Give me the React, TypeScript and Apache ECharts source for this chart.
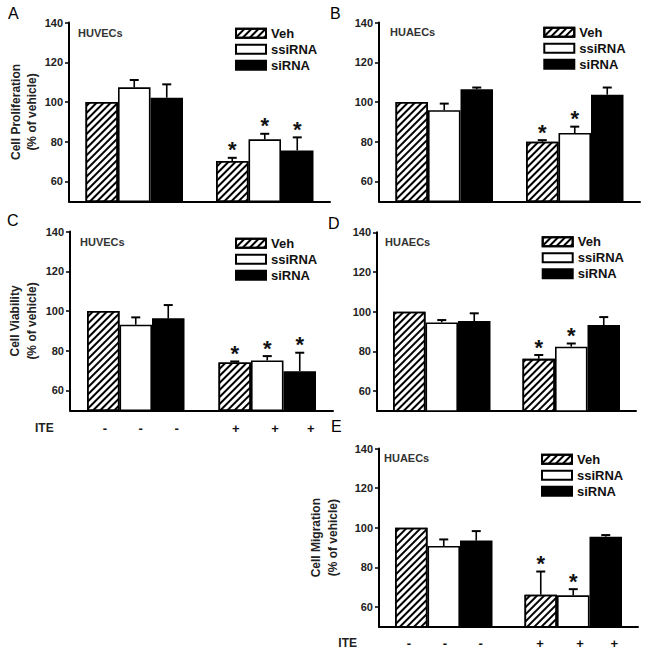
import React, { useEffect, useRef } from 'react';
import * as echarts from 'echarts';

const FONT = '"Liberation Sans", Arial, Helvetica, sans-serif';

const CATEGORIES = ['-', '+'];
const SERIES_NAMES = ['Veh', 'ssiRNA', 'siRNA'];
const Y_TICKS = [60, 80, 100, 120, 140];
const ITE_LABELS = ['-', '-', '-', '+', '+', '+'];

// Panel A – HUVECs, cell proliferation
const A_VEH = [100, 70.3];
const A_SSIRNA = [107.4, 81.2];
const A_SIRNA = [102.2, 75.6];
const A_VEH_ERR = [0, 1.6];
const A_SSIRNA_ERR = [3.7, 2.8];
const A_SIRNA_ERR = [6.7, 6.6];
const A_SIG = [[0, 1], [0, 1], [0, 1]];

// Panel B – HUAECs, cell proliferation
const B_VEH = [100, 80];
const B_SSIRNA = [95.9, 84.4];
const B_SIRNA = [106.4, 103.7];
const B_VEH_ERR = [0, 0.8];
const B_SSIRNA_ERR = [3.3, 3.2];
const B_SIRNA_ERR = [0.9, 3.6];
const B_SIG = [[0, 1], [0, 1], [0, 0]];

// Panel C – HUVECs, cell viability
const C_VEH = [100, 74.1];
const C_SSIRNA = [93.1, 75.1];
const C_SIRNA = [96.3, 69.7];
const C_VEH_ERR = [0, 0.5];
const C_SSIRNA_ERR = [3.7, 2.2];
const C_SIRNA_ERR = [6.7, 9.3];
const C_SIG = [[0, 1], [0, 1], [0, 1]];

// Panel D – HUAECs, cell viability
const D_VEH = [100, 76.3];
const D_SSIRNA = [94.6, 82.4];
const D_SIRNA = [95.3, 93.3];
const D_VEH_ERR = [0, 1.9];
const D_SSIRNA_ERR = [1.2, 1.6];
const D_SIRNA_ERR = [3.9, 4.0];
const D_SIG = [[0, 1], [0, 1], [0, 0]];

// Panel E – HUAECs, cell migration
const E_VEH = [100, 66.2];
const E_SSIRNA = [90.8, 65.9];
const E_SIRNA = [93.5, 95.5];
const E_VEH_ERR = [0, 11.7];
const E_SSIRNA_ERR = [3.3, 3.1];
const E_SIRNA_ERR = [4.8, 0.8];
const E_SIG = [[0, 1], [0, 1], [0, 0]];

const BAR_WIDTH = 32.5;

const PANELS = [
  {
    letter: 'A', letterPos: [8, 13], cell: 'HUVECs', cellPos: [78, 33.3],
    yName: 'Cell Proliferation\n(% of vehicle)', nameGap: 28,
    values: [A_VEH, A_SSIRNA, A_SIRNA], errs: [A_VEH_ERR, A_SSIRNA_ERR, A_SIRNA_ERR], sig: A_SIG,
    grid: { left: 69, top: 22.6, width: 261, height: 178.7 },
    legend: { left: 235, top: 26.8 },
  },
  {
    letter: 'B', letterPos: [330, 13], cell: 'HUAECs', cellPos: [390, 32.3],
    yName: '', nameGap: 0,
    values: [B_VEH, B_SSIRNA, B_SIRNA], errs: [B_VEH_ERR, B_SSIRNA_ERR, B_SIRNA_ERR], sig: B_SIG,
    grid: { left: 379, top: 22.6, width: 261, height: 178.7 },
    legend: { left: 543.3, top: 25.8 },
  },
  {
    letter: 'C', letterPos: [7, 220], cell: 'HUVECs', cellPos: [80, 242.3],
    yName: 'Cell Viability\n(% of vehicle)', nameGap: 30,
    values: [C_VEH, C_SSIRNA, C_SIRNA], errs: [C_VEH_ERR, C_SSIRNA_ERR, C_SIRNA_ERR], sig: C_SIG,
    grid: { left: 70, top: 231.6, width: 263, height: 178.7 },
    legend: { left: 235, top: 236.8 },
  },
  {
    letter: 'D', letterPos: [328, 223], cell: 'HUAECs', cellPos: [385, 241.7],
    yName: '', nameGap: 0,
    values: [D_VEH, D_SSIRNA, D_SIRNA], errs: [D_VEH_ERR, D_SSIRNA_ERR, D_SIRNA_ERR], sig: D_SIG,
    grid: { left: 377, top: 232.3, width: 259, height: 178.7 },
    legend: { left: 541.7, top: 235.2 },
  },
  {
    letter: 'E', letterPos: [331, 426], cell: 'HUAECs', cellPos: [384, 458.3],
    yName: 'Cell Migration\n(% of vehicle)', nameGap: 38,
    values: [E_VEH, E_SSIRNA, E_SIRNA], errs: [E_VEH_ERR, E_SSIRNA_ERR, E_SIRNA_ERR], sig: E_SIG,
    grid: { left: 379, top: 448.5, width: 259, height: 178.3 },
    legend: { left: 541, top: 452.8 },
  },
];

// ITE rows under panels C and E
const ITE_ROWS = [
  { titleX: 35, y: 428.3, xs: [105, 140.7, 176.7, 235.7, 275, 310.7] },
  { titleX: 338.3, y: 643, xs: [409, 445, 480.7, 540, 580, 614.3] },
];

const BAR_STYLES = [
  {
    color: '#ffffff', borderColor: '#000', borderWidth: 1.6,
    decal: {
      symbol: 'rect', symbolSize: 1, color: '#000', backgroundColor: '#ffffff',
      dashArrayX: [1, 0], dashArrayY: [1.4, 2.4], rotation: -Math.PI / 4,
    },
  },
  { color: '#ffffff', borderColor: '#000', borderWidth: 1.6 },
  { color: '#000000', borderColor: '#000', borderWidth: 1.6 },
];

function makeRenderer(seriesIdx: number) {
  return (params: any, api: any) => {
    const k = api.value(0);
    const v = api.value(1);
    const e = api.value(2);
    const sig = api.value(3);
    const base = api.coord([k, v]);
    const top = api.coord([k, v + e]);
    const cx = base[0] + (seriesIdx - 1) * BAR_WIDTH;
    const children: any[] = [];
    if (e > 0) {
      children.push({
        type: 'line',
        shape: { x1: cx, y1: base[1], x2: cx, y2: top[1] },
        style: { stroke: '#000', lineWidth: 1.6 },
      });
      children.push({
        type: 'line',
        shape: { x1: cx - 4.5, y1: top[1], x2: cx + 4.5, y2: top[1] },
        style: { stroke: '#000', lineWidth: 2 },
      });
    }
    if (sig) {
      children.push({
        type: 'text',
        x: cx,
        y: top[1] - 8,
        style: {
          text: '*', fontSize: 22, fontWeight: 'bold', fontFamily: FONT, fill: '#111',
          align: 'center', verticalAlign: 'middle',
        },
      });
    }
    return { type: 'group', children };
  };
}

function buildOption() {
  const series: any[] = [];
  PANELS.forEach((p, i) => {
    for (let s = 0; s < 3; s++) {
      series.push({
        type: 'bar',
        name: SERIES_NAMES[s],
        xAxisIndex: i,
        yAxisIndex: i,
        data: p.values[s],
        barWidth: BAR_WIDTH,
        barGap: '0%',
        itemStyle: BAR_STYLES[s],
        emphasis: { disabled: true },
        z: 2,
      });
    }
    for (let s = 0; s < 3; s++) {
      series.push({
        type: 'custom',
        xAxisIndex: i,
        yAxisIndex: i,
        data: p.values[s].map((v, k) => [k, v, p.errs[s][k], p.sig[s][k]]),
        renderItem: makeRenderer(s),
        silent: true,
        z: 3,
      });
    }
  });

  const graphic: any[] = [];
  PANELS.forEach((p) => {
    graphic.push({
      type: 'text', x: p.letterPos[0], y: p.letterPos[1],
      style: { text: p.letter, fontSize: 16, fontFamily: FONT, fill: '#000', align: 'left', verticalAlign: 'middle' },
    });
    graphic.push({
      type: 'text', x: p.cellPos[0], y: p.cellPos[1],
      style: { text: p.cell, fontSize: 11, fontWeight: 'bold', fontFamily: FONT, fill: '#333', align: 'left', verticalAlign: 'middle' },
    });
  });
  ITE_ROWS.forEach((r) => {
    graphic.push({
      type: 'text', x: r.titleX, y: r.y,
      style: { text: 'ITE', fontSize: 12, fontWeight: 'bold', fontFamily: FONT, fill: '#222', align: 'left', verticalAlign: 'middle' },
    });
    r.xs.forEach((x, j) => {
      graphic.push({
        type: 'text', x, y: r.y,
        style: { text: ITE_LABELS[j], fontSize: 13, fontWeight: 'bold', fontFamily: FONT, fill: '#111', align: 'center', verticalAlign: 'middle' },
      });
    });
  });

  return {
    animation: false,
    backgroundColor: '#ffffff',
    grid: PANELS.map((p) => ({ ...p.grid, containLabel: false })),
    xAxis: PANELS.map((p, i) => ({
      type: 'category',
      gridIndex: i,
      data: CATEGORIES,
      axisLine: { show: true, lineStyle: { color: '#000', width: 2 } },
      axisTick: { show: false },
      axisLabel: { show: false },
      splitLine: { show: false },
    })),
    yAxis: PANELS.map((p, i) => ({
      type: 'value',
      gridIndex: i,
      min: 50,
      max: 140,
      axisLine: { show: true, onZero: false, lineStyle: { color: '#000', width: 2 } },
      axisTick: { show: true, length: 4, lineStyle: { color: '#000', width: 1.5 }, customValues: Y_TICKS },
      axisLabel: {
        customValues: Y_TICKS, fontSize: 11, fontWeight: 'bold', color: '#222', margin: 6, fontFamily: FONT,
      },
      splitLine: { show: false },
      name: p.yName,
      nameLocation: 'middle',
      nameGap: p.nameGap,
      nameTextStyle: { fontSize: 12, fontWeight: 'bold', color: '#222', lineHeight: 16.5, fontFamily: FONT },
    })),
    legend: PANELS.map((p) => ({
      data: SERIES_NAMES,
      orient: 'vertical',
      left: p.legend.left,
      top: p.legend.top,
      padding: 0,
      itemWidth: 30,
      itemHeight: 9,
      itemGap: 3,
      icon: 'rect',
      selectedMode: false,
      textStyle: { fontSize: 13, fontWeight: 'bold', color: '#111', fontFamily: FONT },
    })),
    series,
    graphic,
  };
}

export default function App() {
  const ref = useRef<HTMLDivElement>(null);
  useEffect(() => {
    if (!ref.current) return;
    const chart = echarts.init(ref.current, undefined, { renderer: 'svg' });
    chart.setOption(buildOption() as any);
    return () => chart.dispose();
  }, []);
  return (
    <div
      ref={ref}
      style={{ position: 'absolute', left: 0, top: 0, width: 645, height: 655, background: '#fff' }}
    />
  );
}
